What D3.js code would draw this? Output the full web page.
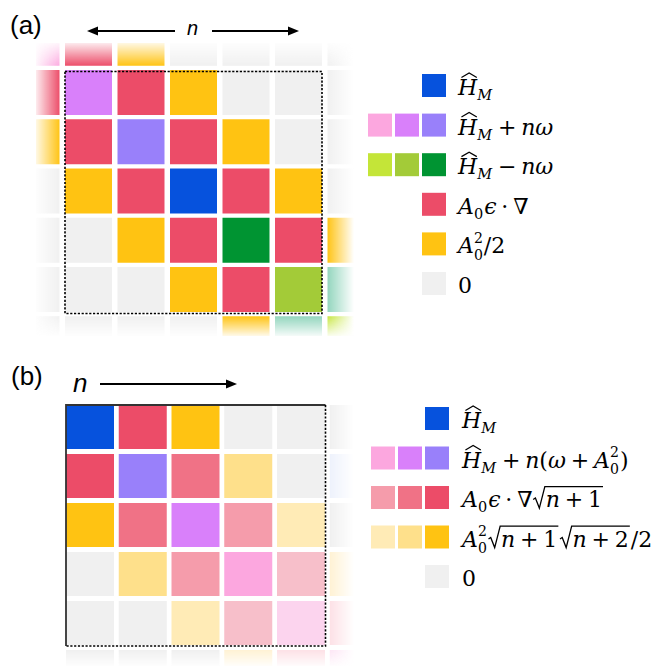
<!DOCTYPE html>
<html>
<head>
<meta charset="utf-8">
<script src="https://cdn.jsdelivr.net/npm/d3@7"></script>
<style>
  html, body { margin: 0; padding: 0; background: #fff; }
  svg { display: block; }
</style>
</head>
<body>
<svg id="fig" width="657" height="666"></svg>
<script>
// ---- colour keys used by the matrix cells and legend swatches ----
const colours = {
  HM: "#0652dd",
  P1: "#fca7df", P2: "#d980fa", P3: "#9980fa",
  G1: "#c4e538", G2: "#a3cb38", G3: "#009432",
  R: "#ec4c68", R2: "#f07286", R3: "#f59cab", R4: "#f7bfca", R5: "#fde1e6",
  Y: "#ffc312", Y2: "#fee08b", Y3: "#ffebb6", Y4: "#fff2d4",
  Z: "#f0f0f0", M: "#92d5bd", P0: "#fcd4ee", P00: "#fde5f5", Q: "#eef2fc"
};

// ---- panel (a): Floquet-type block matrix, photon index n = -1 … 5 ----
const indexA = [-1, 0, 1, 2, 3, 4, 5];
const gridA = [
  ["P1", "R",  "Y",  "Z",  "Z",  "Z",  "Z"],
  ["R",  "P2", "R",  "Y",  "Z",  "Z",  "Z"],
  ["Y",  "R",  "P3", "R",  "Y",  "Z",  "Z"],
  ["Z",  "Y",  "R",  "HM", "R",  "Y",  "Z"],
  ["Z",  "Z",  "Y",  "R",  "G3", "R",  "Y"],
  ["Z",  "Z",  "Z",  "Y",  "R",  "G2", "M"],
  ["Z",  "Z",  "Z",  "Z",  "Y",  "M",  "G1"]
];

// ---- panel (b): Fock-space block matrix, n = 0 … 5 ----
const indexB = [0, 1, 2, 3, 4, 5];
const gridB = [
  ["HM", "R",  "Y",  "Z",  "Z",  "Z"],
  ["R",  "P3", "R2", "Y2", "Z",  "Q"],
  ["Y",  "R2", "P2", "R3", "Y3", "Z"],
  ["Z",  "Y2", "R3", "P1", "R4", "Y4"],
  ["Z",  "Z",  "Y3", "R4", "P0", "R5"],
  ["Z",  "Z",  "Z",  "Y4", "R5", "P00"]
];

// ---- legend swatches (right-aligned per row) ----
const legendSwatchesA = [["HM"], ["P1", "P2", "P3"], ["G1", "G2", "G3"], ["R"], ["Y"], ["Z"]];
const legendSwatchesB = [["HM"], ["P1", "P2", "P3"], ["R3", "R2", "R"], ["Y3", "Y2", "Y"], ["Z"]];

// ---- legend labels as math token lists ----
const tokHM = [{ k: "v", t: "H", hat: true }, { k: "sub", t: "M", it: true }];
const tokA0sq = [{ k: "vs", t: "A", sub: "0", sup: "2" }];
const tokA0e = [{ k: "vs", t: "A", sub: "0" }, { k: "v", t: "ϵ" }, { k: "op", t: "·" }, { k: "r", t: "∇" }];
const sqrtOf = c => ({ k: "sqrt", body: [{ k: "v", t: "n" }, { k: "op", t: "+" }, { k: "r", t: c }] });

const legendLabelsA = [
  tokHM,
  [...tokHM, { k: "op", t: "+" }, { k: "v", t: "nω" }],
  [...tokHM, { k: "op", t: "−" }, { k: "v", t: "nω" }],
  tokA0e,
  [...tokA0sq, { k: "r", t: "/2" }],
  [{ k: "r", t: "0" }]
];
const legendLabelsB = [
  tokHM,
  [...tokHM, { k: "op", t: "+" }, { k: "v", t: "n" }, { k: "r", t: "(" }, { k: "v", t: "ω" },
   { k: "op", t: "+" }, ...tokA0sq, { k: "r", t: ")" }],
  [...tokA0e, sqrtOf("1")],
  [...tokA0sq, sqrtOf("1"), sqrtOf("2"), { k: "r", t: "/2" }],
  [{ k: "r", t: "0" }]
];

// ------------------------------------------------------------------
const W = 657, H = 666;
const svg = d3.select("#fig");
const defs = svg.append("defs");

// band scale whose first band starts at `start`, with a fixed step and band size
function bandScale(domain, start, step, size) {
  const gap = step - size;
  return d3.scaleBand().domain(domain)
    .range([start, start + domain.length * step - gap])
    .paddingInner(gap / step).paddingOuter(0);
}

// luminance mask made of one linear gradient (positions in px)
function fadeMask(id, horizontal, stops) {
  const p0 = stops[0][0], p1 = stops[stops.length - 1][0];
  const grad = defs.append("linearGradient").attr("id", id + "-g")
    .attr("gradientUnits", "userSpaceOnUse")
    .attr("x1", horizontal ? p0 : 0).attr("x2", horizontal ? p1 : 0)
    .attr("y1", horizontal ? 0 : p0).attr("y2", horizontal ? 0 : p1);
  stops.forEach(([p, o]) => grad.append("stop")
    .attr("offset", (p - p0) / (p1 - p0)).attr("stop-color", "#fff").attr("stop-opacity", o));
  const m = defs.append("mask").attr("id", id).attr("maskUnits", "userSpaceOnUse")
    .attr("x", 0).attr("y", 0).attr("width", W).attr("height", H);
  m.append("rect").attr("width", W).attr("height", H).attr("fill", `url(#${id}-g)`);
  return `url(#${id})`;
}

function drawGrid(g, grid, idx, x, y) {
  const cells = grid.flatMap((row, i) => row.map((key, j) => ({ r: idx[i], c: idx[j], key })));
  g.selectAll("rect.cell").data(cells).join("rect").attr("class", "cell")
    .attr("x", d => x(d.c)).attr("y", d => y(d.r))
    .attr("width", x.bandwidth()).attr("height", y.bandwidth())
    .attr("fill", d => colours[d.key]);
}

function arrow(g, x1, x2, y) {
  const dir = Math.sign(x2 - x1), hl = 11, hw = 4.5;
  g.append("line").attr("x1", x1).attr("x2", x2 - dir * hl * 0.7).attr("y1", y).attr("y2", y)
    .attr("stroke", "#000").attr("stroke-width", 1.8);
  g.append("path").attr("d", `M${x2},${y}L${x2 - dir * hl},${y - hw}L${x2 - dir * hl},${y + hw}Z`)
    .attr("fill", "#000");
}

// ---- small math typesetter ----
const MF = "DejaVu Serif";
function word(g, x, y, s, fs, italic) {
  const t = g.append("text").attr("x", x).attr("y", y)
    .attr("font-family", MF).attr("font-size", fs)
    .attr("font-style", italic ? "italic" : "normal").attr("fill", "#000").text(s);
  return t.node().getComputedTextLength();
}
function typeset(g, x, b, toks, fs) {
  for (const tk of toks) x = typesetOne(g, x, b, tk, fs);
  return x;
}
function typesetOne(g, x, b, tk, fs) {
  const s = fs * 0.66;
  switch (tk.k) {
    case "v": {
      const w = word(g, x, b, tk.t, fs, true);
      if (tk.hat) {
        const cap = fs * 0.73, cx = x + w * 0.58, hw = w * 0.4;
        g.append("path")
          .attr("d", `M${cx - hw},${b - cap - 1.5}L${cx},${b - cap - 6}L${cx + hw},${b - cap - 1.5}`)
          .attr("fill", "none").attr("stroke", "#000").attr("stroke-width", 1.2);
      }
      return x + w;
    }
    case "r": return x + word(g, x, b, tk.t, fs, false);
    case "op": {
      const sp = fs * 0.22;
      return x + sp + word(g, x + sp, b, tk.t, fs, false) + sp;
    }
    case "sub": return x + word(g, x, b + fs * 0.24, tk.t, s, !!tk.it) + 1;
    case "vs": {
      // italic symbol with subscript (and optional superscript) in one text element
      const t = g.append("text").attr("x", x).attr("y", b)
        .attr("font-family", MF).attr("font-size", fs).attr("fill", "#000");
      const base = t.append("tspan").attr("font-style", "italic").text(tk.t);
      const wb = base.node().getComputedTextLength();
      const ps = tk.sup ? fs * 0.64 : s;
      const lo = t.append("tspan").attr("font-size", ps).attr("dy", fs * (tk.sup ? 0.3 : 0.24)).text(tk.sub);
      const w1 = lo.node().getComputedTextLength();
      let w2 = 0;
      if (tk.sup) {
        const hi = t.append("tspan").attr("font-size", ps)
          .attr("dx", -w1).attr("dy", -fs * 0.79).text(tk.sup);
        w2 = hi.node().getComputedTextLength();
      }
      return x + wb + Math.max(w1, w2) + 1;
    }
    case "sqrt": {
      const x0 = x + fs * 0.6;
      const x1 = typeset(g, x0, b, tk.body, fs);
      const top = b - fs * 0.93;
      g.append("path")
        .attr("d", `M${x + fs * 0.03},${b - fs * 0.34}L${x + fs * 0.13},${b - fs * 0.41}` +
                   `L${x + fs * 0.31},${b + fs * 0.05}L${x + fs * 0.56},${top}L${x1 + 1},${top}`)
        .attr("fill", "none").attr("stroke", "#000").attr("stroke-width", 1.3);
      return x1 + 2;
    }
  }
  return x;
}

function drawLegend(g, swatches, labels, rowY, xRight, textX, fs) {
  const sw = 24, sh = 23, pitch = 27;
  const rows = g.selectAll("g.leg").data(swatches.map((s, i) => ({ s, i }))).join("g").attr("class", "leg");
  rows.selectAll("rect").data(d => d.s.map((key, j) => ({ key, j, n: d.s.length, i: d.i }))).join("rect")
    .attr("x", d => xRight - sw - (d.n - 1 - d.j) * pitch)
    .attr("y", d => rowY(d.i) - sh / 2)
    .attr("width", sw).attr("height", sh)
    .attr("fill", d => colours[d.key]);
  labels.forEach((toks, i) => typeset(g, textX, rowY(i) + 9.5, toks, fs));
}

// ================= panel (a) =================
const xA = bandScale(indexA, 65 - 52.5, 52.5, 47);
const yA = bandScale(indexA, 70 - 49.25, 49.25, 45);

defs.append("clipPath").attr("id", "clipA").append("rect")
  .attr("x", 36).attr("y", 43).attr("width", 320).attr("height", 293);
const maskAx = fadeMask("fadeAx", true, [[33, 0], [60, 1], [327, 1], [354, 0]]);
const maskAy = fadeMask("fadeAy", false, [[40, 0], [66, 1], [316, 1], [338, 0]]);

const gA = svg.append("g").attr("mask", maskAy)
  .append("g").attr("mask", maskAx)
  .append("g").attr("clip-path", "url(#clipA)");
drawGrid(gA, gridA, indexA, xA, yA);

// dotted frame around the n = 0…4 block
svg.append("rect")
  .attr("x", xA(0)).attr("y", yA(0) + 1.5)
  .attr("width", xA(4) + xA.bandwidth() - xA(0))
  .attr("height", yA(4) + yA.bandwidth() - yA(0))
  .attr("fill", "none").attr("stroke", "#000").attr("stroke-width", 1.6)
  .attr("stroke-dasharray", "2.2 1.6");

svg.append("text").attr("x", 10).attr("y", 33.5)
  .attr("font-family", "Liberation Sans, Arial, sans-serif").attr("font-size", 26).text("(a)");
svg.append("text").attr("x", 187).attr("y", 35)
  .attr("font-family", "Liberation Sans, Arial, sans-serif").attr("font-style", "italic")
  .attr("font-size", 20).text("n");
arrow(svg, 175, 87, 31);
arrow(svg, 212, 299, 31);

const legA = svg.append("g");
drawLegend(legA, legendSwatchesA, legendLabelsA,
  d3.scaleLinear().domain([0, 5]).range([85.5, 283.5]), 446, 458, 22);

// ================= panel (b) =================
const xB = bandScale(indexB, 66, 52.75, 48);
const yB = bandScale(indexB, 405, 49, 44);

const maskBx = fadeMask("fadeBx", true, [[0, 1], [330, 1], [354, 0]]);
const maskBy = fadeMask("fadeBy", false, [[0, 1], [650, 1], [668, 0]]);
const gB = svg.append("g").attr("mask", maskBy).append("g").attr("mask", maskBx);
drawGrid(gB, gridB, indexB, xB, yB);

// frame: solid on the n = 0 edges, dotted on the open edges
const bx0 = xB(0), by0 = yB(0);
const bx1 = xB(4) + xB.bandwidth() + 0.5, by1 = yB(4) + yB.bandwidth() + 1;
svg.append("path").attr("d", `M${bx0},${by1}L${bx0},${by0}L${bx1},${by0}`)
  .attr("fill", "none").attr("stroke", "#333").attr("stroke-width", 1.8);
svg.append("path").attr("d", `M${bx1},${by0}L${bx1},${by1}L${bx0},${by1}`)
  .attr("fill", "none").attr("stroke", "#000").attr("stroke-width", 1.6)
  .attr("stroke-dasharray", "2.2 1.6");

svg.append("text").attr("x", 11).attr("y", 384.5)
  .attr("font-family", "Liberation Sans, Arial, sans-serif").attr("font-size", 26).text("(b)");
svg.append("text").attr("x", 73).attr("y", 391.5)
  .attr("font-family", "Liberation Sans, Arial, sans-serif").attr("font-style", "italic")
  .attr("font-size", 26).text("n");
arrow(svg, 100, 237, 384);

const legB = svg.append("g");
drawLegend(legB, legendSwatchesB, legendLabelsB,
  d3.scaleLinear().domain([0, 4]).range([418.5, 576.5]), 449, 462, 22);
</script>
</body>
</html>
